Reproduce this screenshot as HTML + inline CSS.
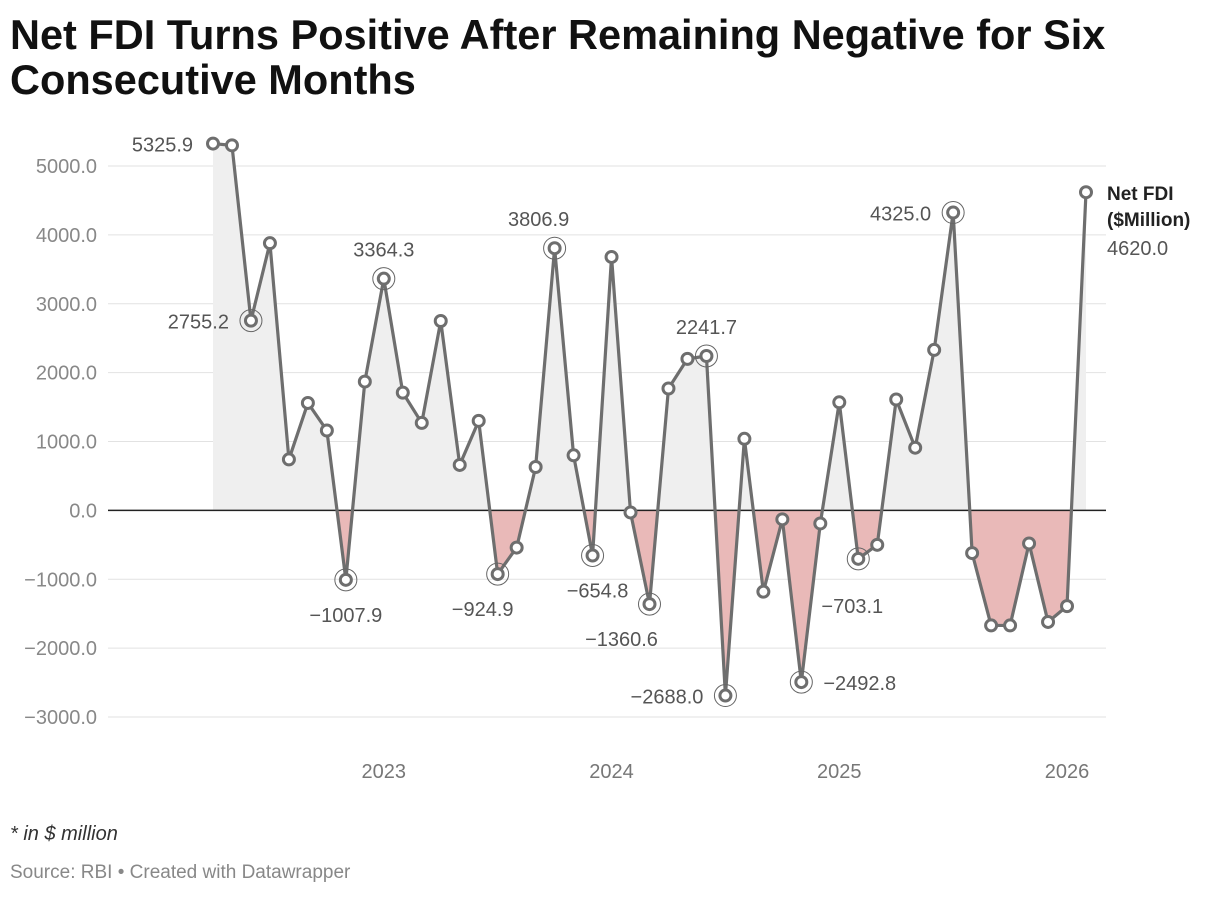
<!DOCTYPE html>
<html><head><meta charset="utf-8"><style>
body{margin:0;background:#fff;font-family:"Liberation Sans",Arial,sans-serif;}
#wrap{position:relative;width:1220px;height:898px;overflow:hidden;}
h1{position:absolute;left:10px;top:12px;margin:0;font-size:41.5px;line-height:45px;font-weight:bold;color:#111;letter-spacing:0px;width:1180px;}
.note{position:absolute;left:10px;top:823px;font-size:20px;font-style:italic;color:#333;}
.src{position:absolute;left:10px;top:862px;font-size:19px;color:#888;}
svg{position:absolute;left:0;top:0;}
</style></head><body>
<div id="wrap">
<h1>Net FDI Turns Positive After Remaining Negative for Six Consecutive Months</h1>
<svg id="chart" width="1220" height="898"></svg>
<div class="note">* in $ million</div>
<div class="src">Source: RBI • Created with Datawrapper</div>
</div>
<script>
const values=[5325.9,5300,2755.2,3880,740,1560,1160,-1007.9,1870,3364.3,1710,1270,2750,660,1300,-924.9,-540,630,3806.9,800,-654.8,3680,-30,-1360.6,1770,2200,2241.7,-2688,1040,-1180,-130,-2492.8,-190,1570,-703.1,-500,1610,910,2330,4325,-620,-1670,-1670,-480,-1620,-1390,4620];
const labelIdx=[0,2,7,9,15,18,20,23,26,27,31,34,39];
const highlights=[2,7,9,15,18,20,23,26,27,31,34,39];
const labelTexts=["5325.9","2755.2","−1007.9","3364.3","−924.9","3806.9","−654.8","−1360.6","2241.7","−2688.0","−2492.8","−703.1","4325.0"];
const yTicks=[5000,4000,3000,2000,1000,0,-1000,-2000,-3000];
const yearLabels=["2023","2024","2025","2026"];
const yearIdx=[9,21,33,45];
const NS="http://www.w3.org/2000/svg";
const svg=document.getElementById('chart');
const x=i=>213+i*(1086-213)/46;
const y=v=>510.4-v*0.068875;
function mk(t,a,p){const e=document.createElementNS(NS,t);for(const k in a)e.setAttribute(k,a[k]);(p||svg).appendChild(e);return e;}
yTicks.forEach(t=>{
 const l=mk('line',{x1:108,x2:1106,y1:y(t),y2:y(t),stroke:'#e2e2e2','stroke-width':1});
 
 
 const tx=mk('text',{x:97,y:y(t)+7,'text-anchor':'end','font-size':20,fill:'#888'});
 tx.textContent=t.toFixed(1).replace('-','−');
 
 
});
yearLabels.forEach((s,k)=>{
 const tx=mk('text',{x:x(yearIdx[k]),y:778,'text-anchor':'middle','font-size':20,fill:'#777'});
 tx.textContent=s;
 
 
});
const defs=mk('defs',{});
const cp=mk('clipPath',{id:'pos'},defs);mk('rect',{x:0,y:0,width:1220,height:y(0)},cp);
const cn=mk('clipPath',{id:'neg'},defs);mk('rect',{x:0,y:y(0),width:1220,height:500},cn);
let d='M'+x(0)+','+y(0);values.forEach((v,i)=>d+='L'+x(i)+','+y(v));d+='L'+x(values.length-1)+','+y(0)+'Z';
const ap=mk('path',{d:d,fill:'#efefef','clip-path':'url(#pos)'});


const an=mk('path',{d:d,fill:'#e9b9b8','clip-path':'url(#neg)'});


const z=mk('line',{x1:108,x2:1106,y1:y(0),y2:y(0),stroke:'#222','stroke-width':1.5});


let ld='';values.forEach((v,i)=>ld+=(i?'L':'M')+x(i)+','+y(v));
const line=mk('path',{d:ld,fill:'none',stroke:'#6e6e6e','stroke-width':3.2,'stroke-linejoin':'round'});


values.forEach((v,i)=>{
 if(highlights.includes(i)){const r=mk('circle',{cx:x(i),cy:y(v),r:11,fill:'none',stroke:'#666','stroke-width':1});
 
 }
 const c=mk('circle',{cx:x(i),cy:y(v),r:5.5,fill:'#fff',stroke:'#6e6e6e','stroke-width':3});
 
 
});
const lpos=[[-20,8,'end'],[-22,8,'end'],[0,42,'middle'],[0,-22,'middle'],[-15,42,'middle'],[-16,-22,'middle'],[5,42,'middle'],[-28,42,'middle'],[0,-22,'middle'],[-22,8,'end'],[22,8,'start'],[-6,54,'middle'],[-22,8,'end']];
labelIdx.forEach((i,k)=>{
 const p=lpos[k];
 const tx=mk('text',{x:x(i)+p[0],y:y(values[i])+p[1],'text-anchor':p[2],'font-size':20,fill:'#555'});
 tx.textContent=labelTexts[k];
 
 
});
const last=values.length-1;
const s1=mk('text',{x:1107,y:200,'font-size':19,'font-weight':'bold',fill:'#222'});s1.textContent='Net FDI';


const s2=mk('text',{x:1107,y:226,'font-size':19,'font-weight':'bold',fill:'#222'});s2.textContent='($Million)';


const s3=mk('text',{x:1107,y:255,'font-size':20,fill:'#555'});s3.textContent=values[last].toFixed(1);


</script>
</body></html>
